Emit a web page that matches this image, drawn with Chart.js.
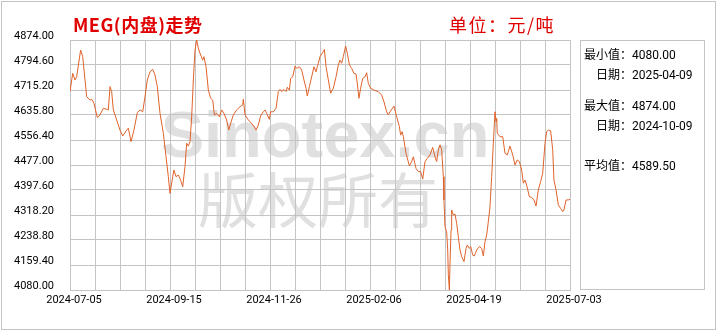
<!DOCTYPE html>
<html>
<head>
<meta charset="utf-8">
<script src="https://cdn.jsdelivr.net/npm/chart.js@4.4.1/dist/chart.umd.min.js"></script>
<style>
  html, body { margin: 0; padding: 0; background: #fff; }
  #wrap { position: relative; width: 720px; height: 330px; overflow: hidden; }
  #frame { position: absolute; left: 1px; top: 1px; width: 715px; height: 329px; border: 1px solid #c4c4c4; box-sizing: border-box; }
  canvas { position: absolute; left: 0; top: 0; }
  .title { position: absolute; top: 12px; color: #e00000; font-family: "Noto Sans CJK SC", sans-serif; font-size: 18px; line-height: 24px; white-space: nowrap; }
  #info { position: absolute; left: 580px; top: 40px; width: 125px; height: 250px; border: 1px solid #c4c4c4; box-sizing: border-box; }
  .row { position: absolute; font-family: Roboto, "Noto Sans CJK SC", sans-serif; font-size: 12px; line-height: 14px; color: #000; white-space: nowrap; }
</style>
</head>
<body>
<div id="wrap">
  <div id="frame"></div>
  <canvas id="c" width="720" height="330"></canvas>
  <div class="title" style="left:73px;font-weight:bold;letter-spacing:0.5px;">MEG(内盘)走势</div>
  <div class="title" style="left:449px;letter-spacing:1.5px;">单位：元/吨</div>
  <div id="info"></div>
</div>
<script>
// trading-day index (0 = 2024-07-05) and price
const dayIdx = [
  0, 1.3, 2.4, 3.2, 5.1, 6.1, 7.2, 8.0, 9.6, 10.4, 11.5, 13.1, 14.4, 16.0, 17.6, 18.4, 19.2, 20.0, 20.8, 22.4,
  24.0, 25.3, 27.2, 28.0, 29.3, 30.7, 32.3, 33.6, 34.9, 36.0, 37.1, 38.4, 39.7, 40.8, 41.9, 43.2, 44.8, 46.1, 47.2, 48.0,
  49.3, 49.9, 50.9, 52.0, 53.1, 54.1, 55.2, 56.0, 56.8, 57.6, 58.4, 59.2, 60.0, 60.8, 61.6, 62.4, 63.7, 64.3, 65.3, 66.4,
  67.5, 68.5, 69.3, 70.4, 71.7, 72.8, 73.9, 75.2, 76.2, 77.1, 78.4, 80.0, 81.6, 82.9, 83.2, 84.0, 85.6, 87.2, 88.3, 89.3,
  90.4, 91.5, 92.8, 93.6, 94.4, 95.7, 96.3, 97.6, 98.9, 100.0, 100.8, 101.6, 102.7, 103.7, 104.3, 105.3, 105.9, 106.9, 108.0, 108.8,
  110.1, 111.2, 112.3, 113.3, 113.9, 114.9, 116.0, 117.1, 118.1, 118.7, 119.2, 120.0, 121.3, 122.1, 122.9, 124.0, 125.1, 126.4, 127.7, 128.8,
  129.6, 130.4, 131.2, 132.3, 133.1, 134.1, 135.2, 136.3, 137.3, 137.9, 138.7, 139.5, 140.5, 141.6, 142.4, 143.2, 144.3, 145.9, 148.0, 149.6,
  150.7, 152.0, 152.8, 153.6, 155.5, 156.8, 158.1, 158.7, 159.4, 160.0, 161.3, 162.9, 164.0, 164.8, 166.1, 167.2, 168.3, 169.3, 170.4, 171.5,
  172.8, 174.1, 175.2, 176.0, 176.8, 177.6, 178.4, 179.2, 179.5, 180.0, 180.8, 181.3, 181.6, 182.1, 182.4, 182.9, 183.2, 184.0, 184.8, 185.6,
  186.4, 187.2, 188.0, 189.1, 190.1, 190.7, 191.7, 192.3, 193.3, 194.1, 195.2, 196.5, 197.6, 198.4, 199.2, 200.0, 200.8, 201.6, 202.4, 203.2,
  204.0, 204.5, 204.8, 205.1, 206.4, 207.7, 208.8, 209.9, 211.2, 212.5, 213.6, 214.7, 215.7, 216.8, 217.6, 218.4, 219.2, 220.5, 221.6, 222.7,
  223.7, 224.8, 225.9, 226.9, 228.0, 228.8, 229.6, 230.7, 231.7, 232.3, 233.3, 234.4, 235.5, 236.5, 237.1, 238.1, 239.2, 240.0
];
const price = [
  4710, 4768, 4747, 4757, 4842, 4821, 4747, 4694, 4683, 4686, 4673, 4628, 4636, 4657, 4654, 4652, 4726, 4710, 4652, 4620,
  4588, 4569, 4588, 4594, 4551, 4588, 4643, 4652, 4646, 4694, 4747, 4773, 4781, 4763, 4726, 4641, 4578, 4503, 4440, 4387,
  4440, 4461, 4440, 4445, 4429, 4408, 4472, 4546, 4537, 4551, 4630, 4747, 4842, 4874, 4848, 4832, 4810, 4821, 4789, 4715,
  4689, 4683, 4636, 4641, 4630, 4652, 4641, 4620, 4588, 4609, 4636, 4652, 4662, 4668, 4686, 4636, 4620, 4609, 4599, 4588,
  4604, 4633, 4646, 4652, 4641, 4622, 4646, 4646, 4657, 4710, 4717, 4710, 4717, 4710, 4724, 4715, 4752, 4757, 4791, 4784,
  4789, 4779, 4747, 4721, 4696, 4726, 4757, 4789, 4773, 4789, 4800, 4821, 4834, 4844, 4789, 4747, 4705, 4721, 4757, 4795,
  4810, 4800, 4821, 4855, 4832, 4795, 4784, 4768, 4766, 4736, 4689, 4721, 4752, 4757, 4770, 4736, 4721, 4715, 4710, 4699,
  4678, 4646, 4636, 4646, 4664, 4630, 4599, 4572, 4583, 4567, 4514, 4474, 4488, 4503, 4466, 4456, 4456, 4432, 4488, 4498,
  4509, 4533, 4503, 4488, 4525, 4541, 4525, 4440, 4366, 4281, 4265, 4207, 4128, 4080, 4165, 4271, 4334, 4318, 4321, 4292,
  4249, 4207, 4186, 4170, 4212, 4223, 4212, 4218, 4191, 4188, 4207, 4218, 4212, 4188, 4233, 4255, 4297, 4345, 4440, 4546,
  4646, 4615, 4625, 4578, 4567, 4567, 4514, 4509, 4537, 4509, 4477, 4493, 4488, 4461, 4419, 4429, 4413, 4376, 4374, 4366,
  4347, 4398, 4424, 4451, 4546, 4583, 4588, 4586, 4525, 4429, 4398, 4350, 4339, 4329, 4334, 4366, 4366, 4368
];
const dateLabels = ['2024-07-05', '2024-09-15', '2024-11-26', '2025-02-06', '2025-04-19', '2025-07-03'];
const yTicks = [4080.00, 4159.40, 4238.80, 4318.20, 4397.60, 4477.00, 4556.40, 4635.80, 4715.20, 4794.60, 4874.00];
const infoLines = [
  ['最小值：', '4080.00'],
  ['　日期：', '2025-04-09'],
  ['最大值：', '4874.00'],
  ['　日期：', '2024-10-09'],
  ['平均值：', '4589.50'],
];

const info = document.getElementById('info');
[14, 34, 65, 85, 125].forEach((top, i) => {
  const d = document.createElement('div');
  d.className = 'row';
  d.style.left = '3px';
  d.style.top = (top - 7) + 'px';
  d.textContent = infoLines[i][0] + infoLines[i][1];
  info.appendChild(d);
});

const watermark = {
  id: 'watermark',
  beforeDraw(chart) {
    const ctx = chart.ctx;
    ctx.save();
    ctx.fillStyle = '#e0e0e0';
    ctx.textAlign = 'center';
    ctx.textBaseline = 'alphabetic';
    ctx.font = 'bold 65px "Liberation Sans", Arial, sans-serif';
    ctx.fillText('Sinotex.cn', 325, 157);
    ctx.font = '60px "Noto Sans CJK SC", sans-serif';
    ctx.textBaseline = 'middle';
    ctx.fillText('版权所有', 318, 200);
    ctx.restore();
  }
};

const gridColor = '#c4c4c4';
const tickFont = { family: 'Roboto, sans-serif', size: 11 };

new Chart(document.getElementById('c').getContext('2d'), {
  type: 'line',
  data: {
    datasets: [{
      data: dayIdx.map((d, i) => ({ x: d, y: price[i] })),
      borderColor: '#e0622a', borderWidth: 1, pointRadius: 0, fill: false, tension: 0,
    }],
  },
  options: {
    responsive: false, animation: false, events: [],
    layout: { padding: { left: 0, right: 150, top: 40, bottom: 20 } },
    plugins: { legend: { display: false }, tooltip: { enabled: false } },
    scales: {
      x: {
        type: 'linear', min: 0, max: 240,
        afterBuildTicks: s => { s.ticks = Array.from({ length: 21 }, (_, i) => ({ value: i * 12 })); },
        afterFit: s => { s.height = 20; },
        grid: { color: gridColor, drawTicks: false },
        border: { color: gridColor },
        ticks: {
          color: '#000', font: tickFont, padding: 4, labelOffset: 4, maxRotation: 0, autoSkip: false,
          callback: v => (v % 48 === 0 ? dateLabels[v / 48] : ''),
        },
      },
      y: {
        min: 4080, max: 4874,
        afterBuildTicks: s => { s.ticks = yTicks.map(v => ({ value: v })); },
        afterFit: s => { s.width = 70; },
        grid: { color: gridColor, drawTicks: false },
        border: { color: gridColor },
        ticks: { color: '#000', font: tickFont, padding: 16, labelOffset: -4, callback: v => v.toFixed(2) },
      },
    },
  },
  plugins: [watermark],
});
</script>
</body>
</html>
